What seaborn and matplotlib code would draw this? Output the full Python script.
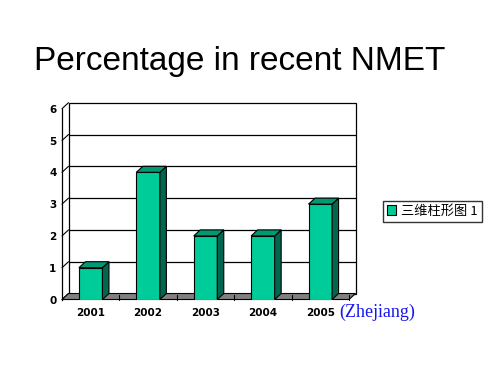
import numpy as np
import matplotlib
matplotlib.use("Agg")
import matplotlib.pyplot as plt
import seaborn as sns
from matplotlib.patches import Polygon, Rectangle, Patch

years = ["2001", "2002", "2003", "2004", "2005"]
values = [1, 4, 2, 2, 3]
y_ticks = [0, 1, 2, 3, 4, 5, 6]
series_name = "三维柱形图 1"

front_col = "#00CC99"
top_col = "#009973"
side_col = "#006650"
floor_col = "#808080"

sns.set_style("white")
plt.rcParams["font.family"] = ["DejaVu Sans"]
plt.rcParams["text.color"] = "black"
plt.rcParams["xtick.color"] = "black"
plt.rcParams["ytick.color"] = "black"

fig = plt.figure(figsize=(5, 3.75), dpi=100)
# axes = front plane of the 3d box
ax = fig.add_axes([0.124, 0.2013, 0.574, 0.5088])

sns.barplot(x=years, y=values, color=front_col, width=0.41, edgecolor="black",
            linewidth=0.8, saturation=1, ax=ax, zorder=5)
ax.set_xlim(-0.5, len(years) - 0.5)
ax.set_ylim(0, max(y_ticks))

# depth offset in pixels -> data units
dx_px, dy_px = 6.5, 6.0
w_px = ax.get_position().width * fig.get_figwidth() * fig.dpi
h_px = ax.get_position().height * fig.get_figheight() * fig.dpi
ddx = dx_px / (w_px / len(years))
ddy = dy_px / (h_px / max(y_ticks))

x0, x1 = -0.5, len(years) - 0.5
ytop = max(y_ticks)

# back wall
ax.add_patch(Rectangle((x0 + ddx, ddy), x1 - x0, ytop, facecolor="white",
                       edgecolor="black", linewidth=0.9, clip_on=False, zorder=1))
for v in y_ticks[1:-1]:
    ax.plot([x0 + ddx, x1 + ddx], [v + ddy, v + ddy], color="black", lw=0.9,
            clip_on=False, zorder=2)
# left wall diagonals
for v in y_ticks:
    ax.plot([x0, x0 + ddx], [v, v + ddy], color="black", lw=0.8,
            clip_on=False, zorder=2)
# floor
floor = Polygon([(x0, 0), (x1, 0), (x1 + ddx, ddy), (x0 + ddx, ddy)],
                closed=True, facecolor=floor_col, edgecolor="black", lw=0.8,
                clip_on=False, zorder=3)
ax.add_patch(floor)
for b in np.arange(x0 + 1, x1 + 0.01, 1.0):
    ax.plot([b, b], [0, ddy * 0.75], color="black", lw=0.8,
            clip_on=False, zorder=3)

# 3d faces of the bars
for p in ax.patches[:]:
    if not isinstance(p, Rectangle) or p.get_facecolor()[:3] == (1.0, 1.0, 1.0):
        continue
    if p.get_height() <= 0 or p.get_width() > 1:
        continue
    bx, bw, bh = p.get_x(), p.get_width(), p.get_height()
    side = Polygon([(bx + bw, 0), (bx + bw + ddx, ddy), (bx + bw + ddx, bh + ddy),
                    (bx + bw, bh)], closed=True, facecolor=side_col,
                   edgecolor="black", lw=0.8, zorder=5, clip_on=False)
    top = Polygon([(bx, bh), (bx + bw, bh), (bx + bw + ddx, bh + ddy),
                   (bx + ddx, bh + ddy)], closed=True, facecolor=top_col,
                  edgecolor="black", lw=0.8, zorder=5, clip_on=False)
    ax.add_patch(side)
    ax.add_patch(top)

for s in ["top", "right", "bottom"]:
    ax.spines[s].set_visible(False)
ax.spines["left"].set_color("black")
ax.spines["left"].set_linewidth(0.9)
ax.spines["left"].set_zorder(4)
ax.set_yticks(y_ticks)
ax.tick_params(axis="both", length=0, labelsize=7.5, labelcolor="black")
ax.tick_params(axis="x", pad=6)
ax.tick_params(axis="y", pad=4)
for t in ax.get_xticklabels() + ax.get_yticklabels():
    t.set_fontweight("bold")
ax.set_xlabel("")
ax.set_ylabel("")
ax.grid(False)
ax.set_facecolor("none")

leg = ax.legend(handles=[Patch(facecolor=front_col, edgecolor="black", lw=0.8,
                               label=series_name)],
                loc="center", bbox_to_anchor=(0.865, 0.437),
                bbox_transform=fig.transFigure, fancybox=False, frameon=True,
                handlelength=0.7, handleheight=0.7, handletextpad=0.4,
                borderpad=0.3, borderaxespad=0,
                prop={"family": ["Noto Sans CJK SC", "DejaVu Sans"], "size": 9.5})
leg.get_frame().set_edgecolor("black")
leg.get_frame().set_linewidth(1.0)
for t in leg.get_texts():
    t.set_color("black")

fig.text(0.48, 0.8133, "Percentage in recent NMET", ha="center", va="baseline",
         fontsize=24, family="Liberation Sans", color="black")
fig.text(0.678, 0.1555, "(Zhejiang)", ha="left", va="baseline", fontsize=13,
         family="Liberation Serif", color="#1515F0")

fig.savefig("out.png", dpi=100)
